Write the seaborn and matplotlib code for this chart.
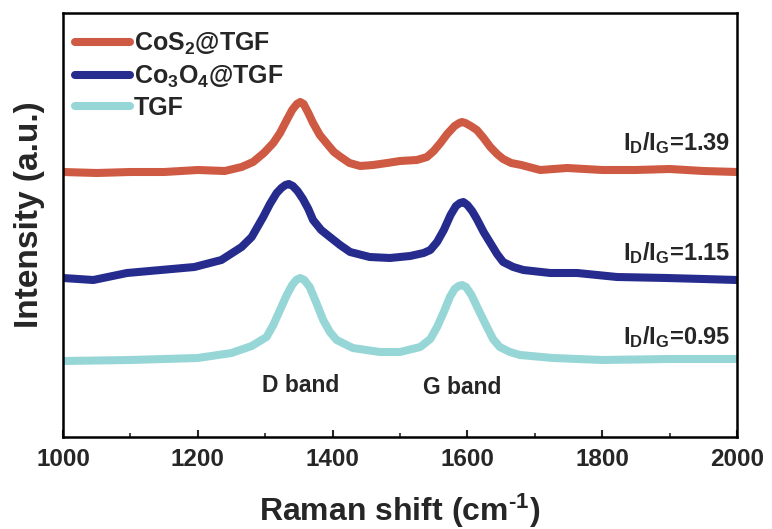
import numpy as np
import pandas as pd
import matplotlib
matplotlib.use("Agg")
import matplotlib.pyplot as plt
import seaborn as sns

# ---- data (intensity in arbitrary units) ----
cos2_x = [1000, 1050, 1100, 1150, 1200, 1240, 1265, 1282, 1298, 1312, 1322, 1332, 1340, 1347,
          1352, 1357, 1364, 1371, 1381, 1392, 1402, 1412, 1425, 1441, 1460, 1481, 1500, 1525,
          1540, 1550, 1560, 1570, 1581, 1588, 1592, 1597, 1605, 1614, 1624, 1634, 1644, 1653,
          1665, 1680, 1708, 1748, 1800, 1850, 1900, 1950, 2000]
cos2_y = [265, 264, 265, 265, 267, 266, 270, 275, 284, 294, 304, 317, 327, 333,
          335, 333, 324, 314, 302, 293, 285, 280, 274, 271, 272, 274, 276, 277,
          280, 286, 294, 303, 311, 314, 315, 314, 311, 307, 299, 290, 283, 278,
          274, 272, 267, 269, 267, 267, 268, 266, 265]

co3o4_x = [1000, 1045, 1095, 1145, 1195, 1235, 1265, 1280, 1297, 1307, 1317, 1324, 1330, 1335,
           1341, 1348, 1356, 1364, 1371, 1383, 1396, 1411, 1426, 1455, 1485, 1515, 1535, 1545,
           1555, 1565, 1575, 1583, 1589, 1594, 1600, 1607, 1614, 1624, 1634, 1644, 1653, 1668,
           1683, 1723, 1763, 1822, 1896, 1950, 2000]
co3o4_y = [159, 157, 164, 167, 170, 177, 190, 200, 220, 233, 244, 249, 252, 253,
           251, 246, 238, 228, 217, 207, 200, 192, 185, 180, 179, 181, 184, 187,
           195, 207, 222, 231, 234, 235, 232, 226, 218, 205, 194, 183, 175, 170,
           167, 164, 164, 160, 159, 158, 157]

tgf_x = [1000, 1100, 1200, 1250, 1280, 1302, 1312, 1322, 1332, 1340, 1346, 1352, 1358, 1366,
         1376, 1386, 1396, 1406, 1430, 1470, 1500, 1530, 1545, 1555, 1565, 1574, 1581, 1587,
         1592, 1598, 1606, 1618, 1629, 1638, 1648, 1663, 1678, 1727, 1800, 1900, 2000]
tgf_y = [76, 77, 79, 84, 91, 100, 112, 127, 142, 152, 157, 159, 157, 150,
         134, 117, 105, 97, 89, 85, 85, 90, 98, 110, 125, 140, 148, 151,
         152, 150, 142, 125, 110, 98, 90, 85, 82, 79, 77, 78, 78]

series_names = ["CoS$_{2}$@TGF", "Co$_{3}$O$_{4}$@TGF", "TGF"]
series_colors = ["#CF5A43", "#262C8E", "#97D6D7"]
ratio_labels = ["I$_{D}$/I$_{G}$=1.39", "I$_{D}$/I$_{G}$=1.15", "I$_{D}$/I$_{G}$=0.95"]
band_labels = ["D band", "G band"]
xticks = [1000, 1200, 1400, 1600, 1800, 2000]

# ---- style ----
sns.set_style("white")
plt.rcParams["font.family"] = ["Liberation Sans", "DejaVu Sans"]
plt.rcParams["font.weight"] = "bold"
plt.rcParams["mathtext.fontset"] = "custom"
plt.rcParams["mathtext.rm"] = "Liberation Sans:bold"
plt.rcParams["mathtext.it"] = "Liberation Sans:bold"
plt.rcParams["mathtext.bf"] = "Liberation Sans:bold"
plt.rcParams["mathtext.default"] = "rm"

fig = plt.figure(figsize=(7.72, 5.29), dpi=100)
ax = fig.add_axes([63 / 772, 92 / 529, 674 / 772, 424 / 529])

frames = [
    pd.DataFrame({"x": cos2_x, "y": cos2_y, "s": series_names[0]}),
    pd.DataFrame({"x": co3o4_x, "y": co3o4_y, "s": series_names[1]}),
    pd.DataFrame({"x": tgf_x, "y": tgf_y, "s": series_names[2]}),
]
for df, c, name in zip(frames, series_colors, series_names):
    sns.lineplot(data=df, x="x", y="y", color=c, lw=5.8, label=name, ax=ax,
                 sort=False, estimator=None)
for l in ax.get_lines():
    l.set_solid_capstyle("butt")
    l.set_solid_joinstyle("round")

ax.set_xlim(1000, 2000)
ax.set_ylim(0, 424)
ax.set_xticks(xticks)
ax.set_xticks(np.arange(1100, 2000, 200), minor=True)
ax.set_yticks([])
ax.tick_params(axis="x", which="major", direction="in", length=5, width=1.5,
               labelsize=17.5, pad=8, bottom=True)
ax.tick_params(axis="x", which="minor", direction="in", length=3, width=1.2, bottom=True)
for lab in ax.get_xticklabels():
    lab.set_fontweight("bold")
for sp in ax.spines.values():
    sp.set_linewidth(1.8)
    sp.set_color("black")

ax.set_xlabel("Raman shift (cm$^{\u2010 1}$)", fontsize=23, fontweight="bold", labelpad=15)
ax.set_ylabel("Intensity (a.u.)", fontsize=24, fontweight="bold")
ax.yaxis.set_label_coords(-0.027, 0.524)

# ratio annotations
for txt, yy in zip(ratio_labels, [294, 184, 100]):
    ax.text(1990, yy, txt, ha="right", va="center", fontsize=17, fontweight="bold")
# band labels
ax.text(1352, 52, band_labels[0], ha="center", va="center", fontsize=16.5, fontweight="bold")
ax.text(1592, 50, band_labels[1], ha="center", va="center", fontsize=16.5, fontweight="bold")

leg = ax.legend(loc="upper left", bbox_to_anchor=(-0.004, 0.993), frameon=False,
                prop={"size": 18, "weight": "bold"}, handlelength=2.2, handletextpad=0.15,
                labelspacing=0.25, borderaxespad=0.2)
for h in leg.get_lines():
    h.set_linewidth(5.8)
    h.set_solid_capstyle("round")

fig.savefig("out.png", dpi=100)
